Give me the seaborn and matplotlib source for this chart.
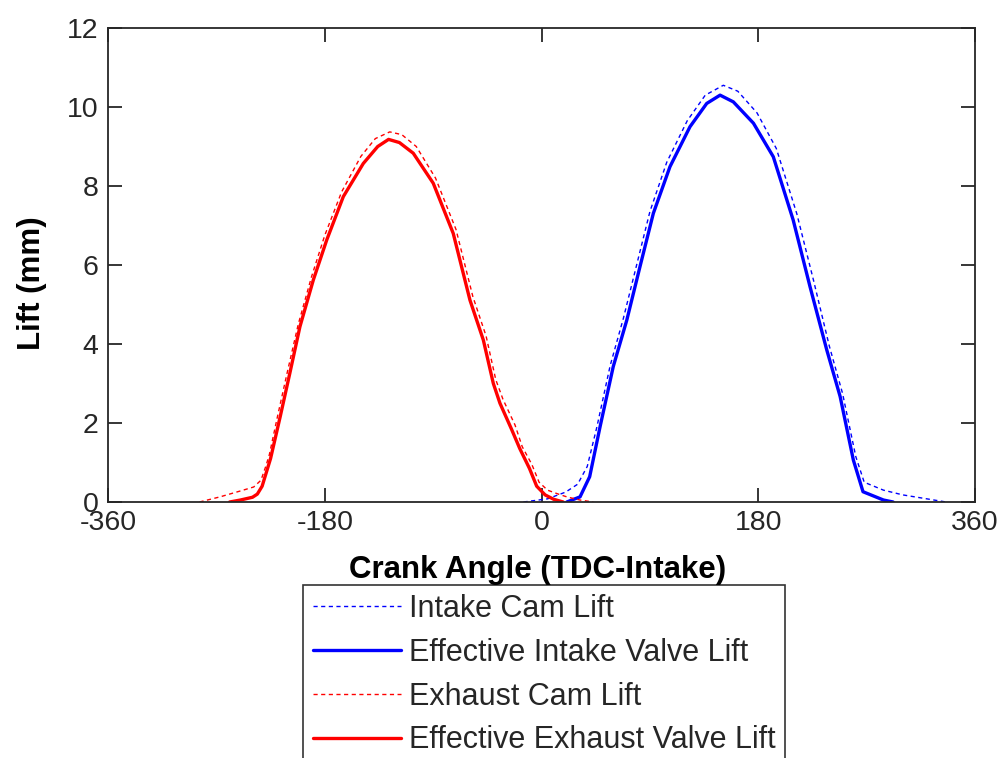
import matplotlib
matplotlib.use("Agg")
import matplotlib.pyplot as plt
import seaborn as sns

# ---- data ----
intake_cam_deg = [-15, 5, 20, 30, 38, 46, 57, 68, 79, 90, 104, 121, 136, 151, 163,
                  179, 195, 212, 226, 239, 250, 261, 268, 284, 300, 316, 336]
intake_cam_lift = [0, 0.08, 0.25, 0.45, 0.9, 1.9, 3.45, 4.65, 6.0, 7.35, 8.6, 9.65,
                   10.3, 10.55, 10.4, 9.85, 8.95, 7.3, 5.6, 3.95, 2.75, 1.15, 0.5,
                   0.3, 0.18, 0.1, 0]

intake_eff_deg = [21, 32, 40, 48.6, 59.6, 70.8, 81.8, 92.9, 106.7, 123.3, 137.2,
                  148.3, 159.3, 176, 192.5, 209, 223, 236.9, 248, 259, 267, 284, 292]
intake_eff_lift = [0, 0.13, 0.64, 1.9, 3.43, 4.6, 5.96, 7.31, 8.49, 9.5, 10.09,
                   10.3, 10.13, 9.59, 8.74, 7.14, 5.45, 3.85, 2.67, 1.06, 0.26, 0.05, 0]

exhaust_cam_deg = [-284, -267, -250, -239, -233, -229, -226, -219, -211, -202, -191,
                   -180, -166, -150, -138, -126, -116, -104, -88, -71, -57, -46, -38,
                   -32, -22, -16, -8, -2, 5, 14, 21, 32, 43]
exhaust_cam_lift = [0, 0.13, 0.28, 0.38, 0.55, 0.9, 1.2, 2.2, 3.3, 4.5, 5.7, 6.75,
                    7.85, 8.75, 9.2, 9.37, 9.3, 9.0, 8.2, 6.9, 5.2, 4.2, 3.1, 2.6,
                    1.95, 1.4, 0.95, 0.5, 0.3, 0.2, 0.13, 0.05, 0]

exhaust_eff_deg = [-259, -250, -240, -236, -232, -228, -225, -217, -209, -200.6,
                   -189.5, -178.4, -164.6, -148, -136, -127, -118, -106.5, -89.9,
                   -73.3, -59.4, -48.3, -40, -34.5, -25, -18, -10, -4, 3, 10, 18]
exhaust_eff_lift = [0, 0.05, 0.12, 0.2, 0.4, 0.8, 1.1, 2.16, 3.26, 4.44, 5.62, 6.63,
                    7.73, 8.57, 9.0, 9.18, 9.1, 8.83, 8.07, 6.8, 5.11, 4.1, 3.0, 2.5,
                    1.85, 1.35, 0.85, 0.4, 0.18, 0.07, 0]

x_ticks = [-360, -180, 0, 180, 360]
y_ticks = [0, 2, 4, 6, 8, 10, 12]

labels = ["Intake Cam Lift", "Effective Intake Valve Lift",
          "Exhaust Cam Lift", "Effective Exhaust Valve Lift"]

# ---- style ----
sns.set_theme(style="white")
plt.rcParams["font.family"] = ["Liberation Sans", "DejaVu Sans"]

fig = plt.figure(figsize=(10.05, 7.58), dpi=100)
W, H = 1005, 758
ax = fig.add_axes([108 / W, 1 - 502 / H, (975 - 108) / W, (502 - 28) / H])

dash = (3, 2.5)
sns.lineplot(x=intake_cam_deg, y=intake_cam_lift, ax=ax, color="#0000ff",
             linewidth=1.0, sort=False, label=labels[0])
ax.lines[-1].set_dashes(dash)
sns.lineplot(x=intake_eff_deg, y=intake_eff_lift, ax=ax, color="#0000ff",
             linewidth=2.4, sort=False, label=labels[1])
sns.lineplot(x=exhaust_cam_deg, y=exhaust_cam_lift, ax=ax, color="#ff0000",
             linewidth=1.0, sort=False, label=labels[2])
ax.lines[-1].set_dashes(dash)
sns.lineplot(x=exhaust_eff_deg, y=exhaust_eff_lift, ax=ax, color="#ff0000",
             linewidth=2.4, sort=False, label=labels[3])

ax.set_xlim(-360, 360)
ax.set_ylim(0, 12)
ax.set_xticks(x_ticks)
ax.set_yticks(y_ticks)
ax.set_xticklabels([str(t) for t in x_ticks])
ax.set_yticklabels([str(t) for t in y_ticks])

for s in ax.spines.values():
    s.set_visible(True)
    s.set_color("#262626")
    s.set_linewidth(1.3)

ax.tick_params(axis="both", which="both", direction="in", length=10, width=1.3,
               color="#262626", labelsize=20.5, labelcolor="#262626",
               top=True, right=True, bottom=True, left=True, pad=6)
ax.tick_params(axis="y", pad=7)

ax.set_xlabel("Crank Angle (TDC-Intake)", fontsize=22.5, fontweight="bold",
              color="black")
ax.xaxis.set_label_coords((538 - 108) / 867, -(570 - 502) / 474)
ax.set_ylabel("Lift (mm)", fontsize=22.5, fontweight="bold", color="black")
ax.yaxis.set_label_coords((32 - 108) / 867, (502 - 283) / 474)
ax.xaxis.label.set_va("center")
ax.yaxis.label.set_va("center")

leg = ax.legend(loc="upper center", bbox_to_anchor=(544 / W, 1 - 585 / H),
                bbox_transform=fig.transFigure, fontsize=22, frameon=True,
                fancybox=False, edgecolor="black", handlelength=2.9,
                handletextpad=0.25, labelspacing=0.45, borderpad=0.3,
                borderaxespad=0)
leg.get_frame().set_linewidth(1.2)
for t in leg.get_texts():
    t.set_color("#262626")

fig.savefig("out.png", dpi=100)
